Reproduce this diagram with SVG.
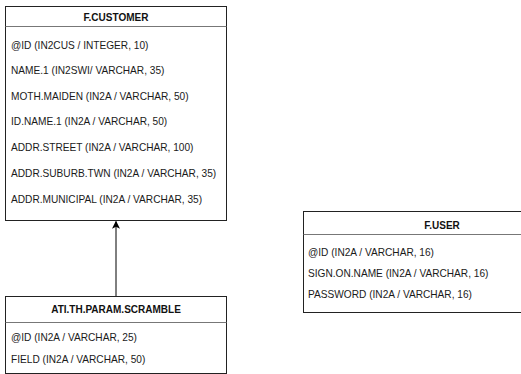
<svg xmlns="http://www.w3.org/2000/svg" width="521" height="374" viewBox="0 0 521 374">
  <style>
    .box { fill: #ffffff; stroke: #222222; stroke-width: 1; }
    .sep { stroke: #777777; stroke-width: 1.2; fill: none; }
    .title { font-family: "Liberation Sans", Arial, sans-serif; font-size: 10px; font-weight: bold; fill: #111111; text-anchor: middle; }
    .field { font-family: "Liberation Sans", Arial, sans-serif; font-size: 10.15px; fill: #1a1a1a; }
    .edge { stroke: #000000; stroke-width: 1; fill: none; }
  </style>
  <defs>
    <marker id="arrow" viewBox="0 0 10 10" refX="9" refY="5" markerWidth="8" markerHeight="8" markerUnits="userSpaceOnUse" orient="auto">
      <path d="M0,0 L10,5 L0,10 L2.5,5 Z" fill="#000000"/>
    </marker>
  </defs>
  <rect width="521" height="374" fill="#ffffff"/>

  <g id="connectors">
    <line class="edge" x1="116" y1="296" x2="116" y2="221.5" marker-end="url(#arrow)"/>
  </g>

  <g id="f-customer">
    <rect class="box" x="5.5" y="6.5" width="221" height="214"/>
    <line class="sep" x1="5.5" y1="26.5" x2="226.5" y2="26.5"/>
    <text class="title" x="116" y="20.5">F.CUSTOMER</text>
    <text class="field" x="11" y="48.8">@ID (IN2CUS / INTEGER, 10)</text>
    <text class="field" x="11" y="74.2">NAME.1 (IN2SWI/ VARCHAR, 35)</text>
    <text class="field" x="11" y="99.6">MOTH.MAIDEN (IN2A / VARCHAR, 50)</text>
    <text class="field" x="11" y="125">ID.NAME.1 (IN2A / VARCHAR, 50)</text>
    <text class="field" x="11" y="150.8">ADDR.STREET (IN2A / VARCHAR, 100)</text>
    <text class="field" x="11" y="176.6">ADDR.SUBURB.TWN (IN2A / VARCHAR, 35)</text>
    <text class="field" x="11" y="202.6">ADDR.MUNICIPAL (IN2A / VARCHAR, 35)</text>
  </g>

  <g id="ati-th-param-scramble">
    <rect class="box" x="5.5" y="296.5" width="221" height="77"/>
    <line class="sep" x1="5.5" y1="322.5" x2="226.5" y2="322.5"/>
    <text class="title" x="116" y="312.6">ATI.TH.PARAM.SCRAMBLE</text>
    <text class="field" x="11" y="340.6">@ID (IN2A / VARCHAR, 25)</text>
    <text class="field" x="11" y="362.6">FIELD (IN2A / VARCHAR, 50)</text>
  </g>

  <g id="f-user">
    <rect class="box" x="303.5" y="211.5" width="278" height="101"/>
    <line class="sep" x1="303.5" y1="234.5" x2="581.5" y2="234.5"/>
    <text class="title" x="442" y="228.6">F.USER</text>
    <text class="field" x="308" y="255.6">@ID (IN2A / VARCHAR, 16)</text>
    <text class="field" x="308" y="276.6">SIGN.ON.NAME (IN2A / VARCHAR, 16)</text>
    <text class="field" x="308" y="297.6">PASSWORD (IN2A / VARCHAR, 16)</text>
  </g>
</svg>
